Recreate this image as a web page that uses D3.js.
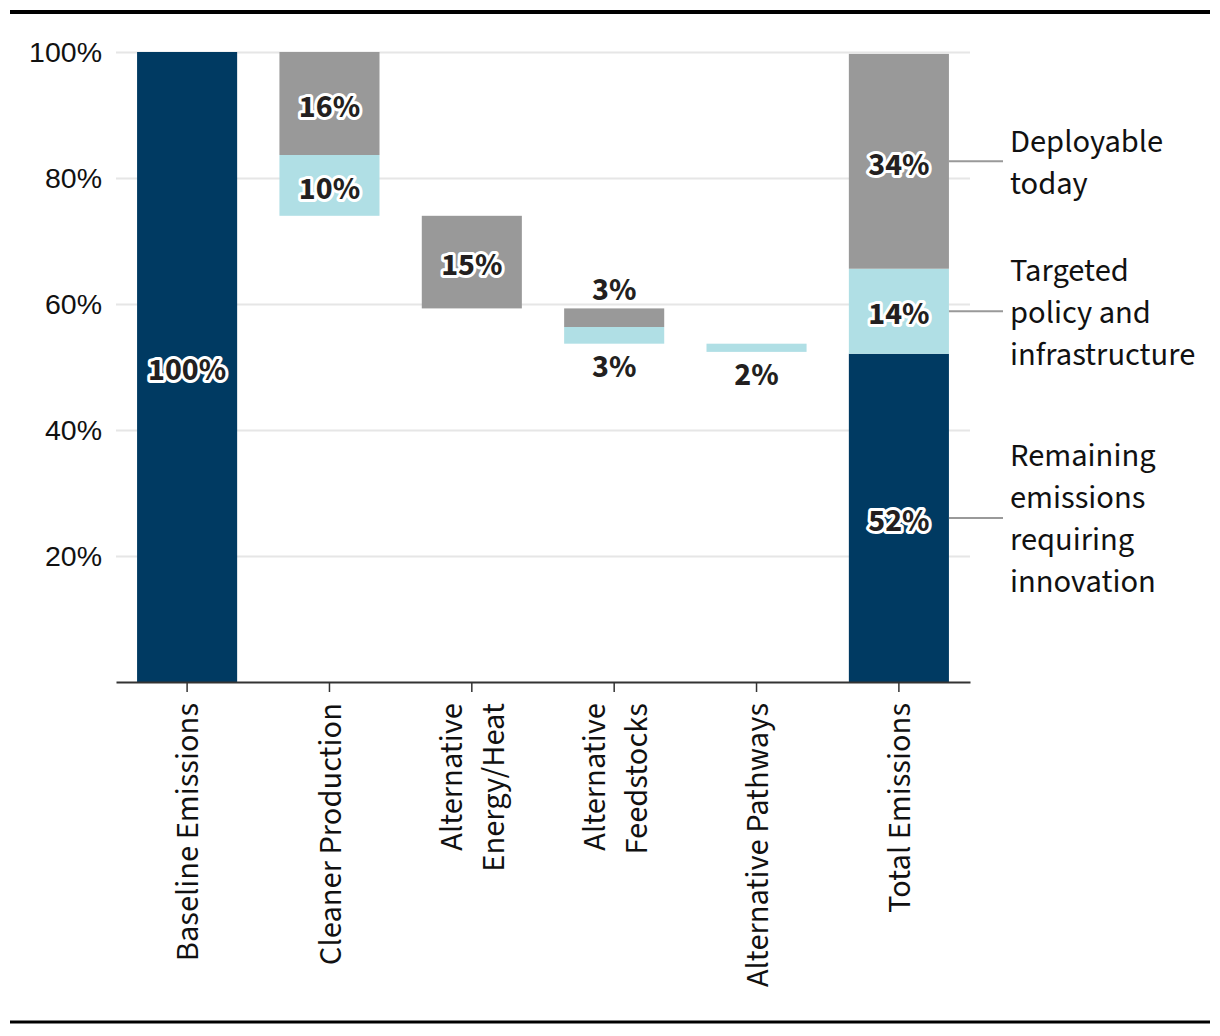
<!DOCTYPE html>
<html>
<head>
<meta charset="utf-8">
<script src="https://cdn.jsdelivr.net/npm/d3@7"></script>
<style>
  body { margin: 0; background: #fff; }
  svg { display: block; font-family: "Source Sans Pro", "Source Sans 3", Lato, sans-serif; }
</style>
</head>
<body>
<div id="chart"></div>
<script>
// categories + axis label wrapping
const categories = ["Baseline Emissions", "Cleaner Production", "Alternative Energy/Heat",
                    "Alternative Feedstocks", "Alternative Pathways", "Total Emissions"];
const categoryLines = [["Baseline Emissions"], ["Cleaner Production"], ["Alternative", "Energy/Heat"],
                       ["Alternative", "Feedstocks"], ["Alternative Pathways"], ["Total Emissions"]];
const barKind = ["total", "step", "step", "step", "step", "total"];

// values (% of baseline emissions)
const deployable = [0, 16.35, 14.7, 2.95, 0, 34.1];
const policy = [0, 9.65, 0, 2.65, 1.3, 13.5];
const innovation = [100, 0, 0, 0, 0, 52.1];

// printed labels
const deployableLabels = ["", "16%", "15%", "3%", "", "34%"];
const policyLabels = ["", "10%", "", "3%", "2%", "14%"];
const innovationLabels = ["100%", "", "", "", "", "52%"];

const yTicks = [20, 40, 60, 80, 100];

const legendLines = [["Deployable", "today"],
                     ["Targeted", "policy and", "infrastructure"],
                     ["Remaining", "emissions", "requiring", "innovation"]];

(() => {
  const colors = { deployable: "#999999", policy: "#b0dfe5", innovation: "#003a62" };

  const W = 1220, H = 1036;
  const m = { left: 116, right: 970, top: 52, bottom: 682 };
  const textSize = "32.5px";

  const svg = d3.select("#chart").append("svg").attr("width", W).attr("height", H);

  const x = d3.scaleBand().domain(categories).range([m.left, m.right]).paddingInner(0.297).paddingOuter(0.148);
  const y = d3.scaleLinear().domain([0, 100]).range([m.bottom, m.top]);

  // rules top and bottom
  svg.append("line").attr("x1", 10).attr("x2", 1210).attr("y1", 12).attr("y2", 12)
    .attr("stroke", "#000").attr("stroke-width", 4);
  svg.append("line").attr("x1", 10).attr("x2", 1210).attr("y1", 1022).attr("y2", 1022)
    .attr("stroke", "#000").attr("stroke-width", 3);

  // y axis / grid
  const yAxis = svg.append("g").attr("transform", `translate(${m.left},0)`)
    .call(d3.axisLeft(y).tickValues(yTicks).tickSize(-(m.right - m.left)).tickPadding(14)
      .tickFormat(d => d + "%"));
  yAxis.select(".domain").remove();
  yAxis.selectAll(".tick line").attr("stroke", "#e6e6e6").attr("stroke-width", 2);
  yAxis.selectAll(".tick text").attr("fill", "#111").style("font-size", "28.5px");

  // build segments (waterfall: totals stack from 0, steps hang from the running level)
  const segments = [];
  let level = 0;
  categories.forEach((c, i) => {
    if (barKind[i] === "total") {
      let base = 0;
      [["innovation", innovation, innovationLabels], ["policy", policy, policyLabels],
       ["deployable", deployable, deployableLabels]].forEach(([k, arr, lab]) => {
        if (arr[i] > 0) {
          segments.push({ cat: c, key: k, y0: base, y1: base + arr[i], label: lab[i], pos: "in" });
          base += arr[i];
        }
      });
      level = base;
    } else {
      [["deployable", deployable, deployableLabels, "above"], ["policy", policy, policyLabels, "below"]]
        .forEach(([k, arr, lab, out]) => {
          if (arr[i] > 0) {
            segments.push({ cat: c, key: k, y0: level - arr[i], y1: level, label: lab[i], pos: out });
            level -= arr[i];
          }
        });
    }
  });

  svg.append("g").selectAll("rect").data(segments).join("rect")
    .attr("x", d => x(d.cat))
    .attr("width", x.bandwidth())
    .attr("y", d => y(d.y1))
    .attr("height", d => y(d.y0) - y(d.y1))
    .attr("fill", d => colors[d.key]);

  // x axis
  const xAxis = svg.append("g").attr("transform", `translate(0,${m.bottom})`)
    .call(d3.axisBottom(x).tickSize(10).tickSizeOuter(0).tickFormat(""));
  xAxis.select(".domain").attr("stroke", "#333").attr("stroke-width", 2);
  xAxis.selectAll(".tick line").attr("stroke", "#333").attr("stroke-width", 1.5);

  const xl = svg.append("g").selectAll("g").data(categories).join("g")
    .attr("transform", d => `translate(${x(d) + x.bandwidth() / 2},${m.bottom + 21}) rotate(-90)`);
  xl.each(function(d, i) {
    const lines = categoryLines[i];
    d3.select(this).selectAll("text").data(lines).join("text")
      .attr("text-anchor", "end")
      .attr("x", 0)
      .attr("y", (l, j) => (j - (lines.length - 1) / 2) * 42)
      .attr("dy", "0.35em")
      .attr("fill", "#111")
      .style("font-size", textSize)
      .text(l => l);
  });

  // value labels
  svg.append("g").selectAll("text").data(segments.filter(d => d.label)).join("text")
    .attr("x", d => x(d.cat) + x.bandwidth() / 2)
    .attr("y", d => {
      const h = y(d.y0) - y(d.y1);
      if (h > 35) return (y(d.y0) + y(d.y1)) / 2 + 2;
      return d.pos === "above" ? y(d.y1) - 20 : y(d.y0) + 22;
    })
    .attr("dy", "0.35em")
    .attr("text-anchor", "middle")
    .attr("fill", "#231f20")
    .attr("stroke", "#fff")
    .attr("stroke-width", 6)
    .attr("stroke-linejoin", "round")
    .attr("paint-order", "stroke")
    .style("font-size", "32px")
    .style("font-weight", 700)
    .text(d => d.label);

  // legend with leader lines
  const last = categories[categories.length - 1];
  const totalSegs = ["deployable", "policy", "innovation"].map(k => segments.find(s => s.cat === last && s.key === k));
  totalSegs.forEach((s, i) => {
    const cy = (y(s.y0) + y(s.y1)) / 2;
    svg.append("line")
      .attr("x1", x(last) + x.bandwidth()).attr("x2", 1003)
      .attr("y1", cy).attr("y2", cy)
      .attr("stroke", "#999").attr("stroke-width", 2);
    const lines = legendLines[i];
    svg.append("g").selectAll("text").data(lines).join("text")
      .attr("x", 1010)
      .attr("y", (l, j) => cy + (j - (lines.length - 1) / 2) * 42)
      .attr("dy", "0.35em")
      .attr("fill", "#111")
      .style("font-size", textSize)
      .text(l => l);
  });
})();
</script>
</body>
</html>
